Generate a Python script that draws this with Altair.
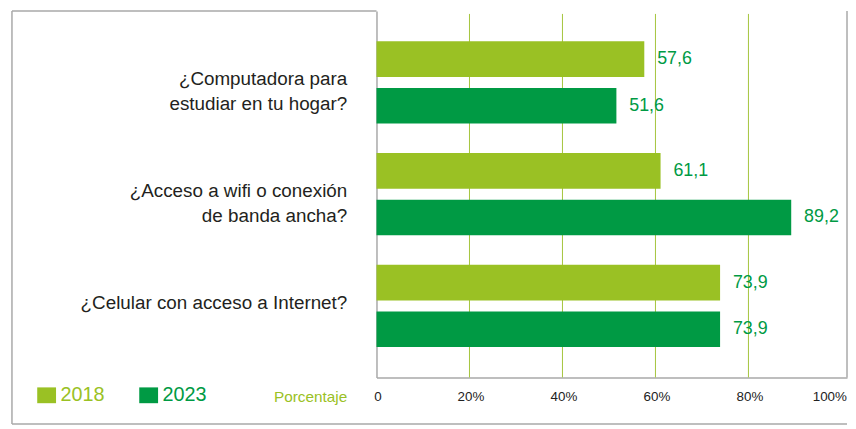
import altair as alt
import pandas as pd

categories = [
    "¿Computadora para\nestudiar en tu hogar?",
    "¿Acceso a wifi o conexión\nde banda ancha?",
    "¿Celular con acceso a Internet?",
]
years = ["2018", "2023"]
values_2018 = [57.6, 61.1, 73.9]
values_2023 = [51.6, 89.2, 73.9]
x_ticks = [0, 20, 40, 60, 80, 100]
grid_values = [20, 40, 60, 80]
colors = ["#9AC124", "#009A44"]

rows = []
for c, v in zip(categories, values_2018):
    rows.append({"cat": c, "year": "2018", "value": v})
for c, v in zip(categories, values_2023):
    rows.append({"cat": c, "year": "2023", "value": v})
df = pd.DataFrame(rows)

W, H = 475, 370
FONT = "Liberation Sans"
BORDER = "#A8A8A8"
LIGHT = "#9AC124"
DARK = "#009A44"

xscale = alt.Scale(domain=[0, 101.2], nice=False, zero=True)
yscale = alt.Scale(domain=categories, paddingInner=0, paddingOuter=0.14)
yoff_scale = alt.Scale(paddingInner=0.234, paddingOuter=0.317)

x_axis = alt.Axis(
    values=x_ticks,
    labelExpr="datum.value == 0 ? '0' : datum.value + '%'",
    grid=False,
    ticks=False,
    domain=True,
    domainColor=BORDER,
    domainWidth=1.5,
    labelFontSize=13.5,
    labelColor="#222222",
    labelPadding=19,
    labelBaseline="middle",
    labelAlign={"condition": {"test": "datum.value == 100", "value": "right"}, "value": "center"},
    labelOffset={"condition": {"test": "datum.value == 100", "value": 5}, "value": 1},
    title="Porcentaje",
    titleColor=LIGHT,
    titleFontSize=15.5,
    titleFontWeight="normal",
    titleAlign="right",
    titleBaseline="middle",
    titleX=-30,
    titleY=19,
)

y_axis = alt.Axis(
    title=None,
    ticks=False,
    domain=True,
    domainColor=BORDER,
    domainWidth=1.5,
    labelPadding=30,
    labelFontSize=19,
    labelLineHeight=25,
    labelColor="#231F20",
    labelExpr="split(datum.label, '\\n')",
    labelOffset=-3,
    labelLimit=400,
)

legend = alt.Legend(
    orient="none",
    legendX=-343,
    legendY=378,
    direction="horizontal",
    title=None,
    symbolType="M-1,-0.84H1V0.84H-1Z",
    symbolSize=361,
    symbolStrokeWidth=0,
    labelFontSize=20,
    labelOffset=4,
    columnPadding=34,
    labelColor={"expr": "datum.label == '2018' ? '#9AC124' : '#009A44'"},
)

grid = alt.Chart(pd.DataFrame({"g": grid_values})).mark_rule(
    color="#A4C43C", strokeWidth=1
).encode(
    x=alt.X("g:Q", scale=xscale, axis=x_axis),
    y=alt.value(3),
    y2=alt.value(H),
)

bars = alt.Chart(df).mark_bar().encode(
    x=alt.X("value:Q", scale=xscale, axis=x_axis),
    y=alt.Y("cat:N", scale=yscale, sort=categories, axis=y_axis),
    yOffset=alt.YOffset("year:N", scale=yoff_scale, sort=years),
    color=alt.Color("year:N", scale=alt.Scale(domain=years, range=colors), legend=legend),
)

labels = alt.Chart(df).transform_calculate(
    label="replace(format(datum.value, '.1f'), '.', ',')"
).mark_text(
    align="left", baseline="middle", dx=13, fontSize=18, color=DARK, font=FONT
).encode(
    x=alt.X("value:Q", scale=xscale),
    y=alt.Y("cat:N", scale=yscale, sort=categories),
    yOffset=alt.YOffset("year:N", scale=yoff_scale, sort=years),
    text="label:N",
)

one = pd.DataFrame({"a": [0]})


def rule(**enc):
    return alt.Chart(one).mark_rule(color=BORDER, strokeWidth=1.5).encode(**enc)


borders = [
    rule(x=alt.value(-368), x2=alt.value(0), y=alt.value(0)),
    rule(x=alt.value(-368), y=alt.value(0), y2=alt.value(417)),
    rule(x=alt.value(-368), x2=alt.value(W), y=alt.value(417)),
    rule(x=alt.value(W), y=alt.value(0), y2=alt.value(H)),
]

chart = alt.layer(grid, bars, labels, *borders).properties(
    width=W,
    height=H,
    autosize=alt.AutoSizeParams(type="none"),
    padding={"left": 372, "top": 1, "right": 1, "bottom": 46},
).configure(font=FONT).configure_view(stroke=None)

chart.save("out.html", embed_options={"renderer": "svg", "actions": False})
